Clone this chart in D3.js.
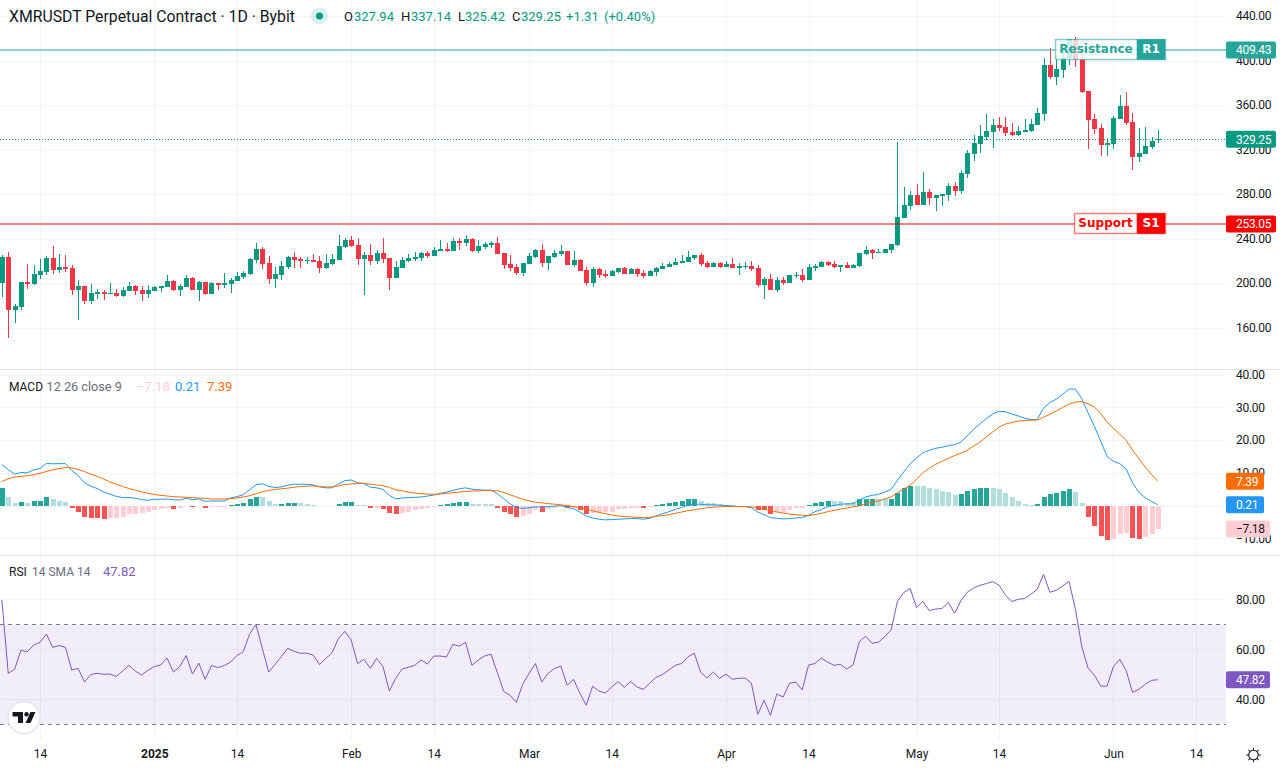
<!DOCTYPE html>
<html><head><meta charset="utf-8">
<script src="https://cdn.jsdelivr.net/npm/d3@7/dist/d3.min.js"></script>
<style>html,body{margin:0;padding:0;background:#fff;overflow:hidden}svg{display:block}text{font-family:Roboto,sans-serif}</style>
</head><body><svg id="c" width="1280" height="768"></svg>
<script>
const firstDay = "2024-12-08";
const opens = [
200.2,223.3,175.6,178.3,200.8,199,207.1,209.8,222.4,211.6,
214.3,213.4,193.6,197.2,183.7,190,191.8,190,190.9,188.2,
192.7,197.2,193.6,190,192.7,195.4,196.3,201.7,193.6,196.3,
204.4,193.6,200.8,190,199.9,198.1,199,201.7,205.3,208,
220.6,230.5,217.9,203.5,207.1,214.3,223.3,221.5,219.7,220.6,
219.7,213.4,217,220.6,232.3,238.6,234.1,221.5,225.1,219.7,
226.9,222.4,204.4,213.4,219.7,221.5,222.4,226.9,224.2,228.7,
230.5,228.7,238,235.9,239.5,228.7,232.3,234.1,235.9,226.9,
217,214.3,208.9,217,223.3,229.6,217.9,223.3,226,228.7,
216.1,220.6,211.6,199.9,212.5,208,206.2,209.8,213.4,208,
212.5,208.9,206.2,209.8,212.5,214.3,216.1,217.9,218.8,222.4,
225.1,217.9,214.3,217.9,214.3,217,213.4,214.3,215.2,213.4,
198.1,203.5,193.6,202.6,199.9,206.2,207.1,202.6,213.4,214.3,
218.8,217,214.3,216.1,213.4,215.2,226,229.6,226.9,226.9,
229.6,233.9,258.2,269,278.9,269.9,281.6,276.2,278,278.9,
287,282.5,297.8,315.8,324.8,331.1,335.6,341.9,340.1,335.6,
332.9,335.6,336.5,342,351.8,395.9,385.1,391.4,401.9,419.3,
401.3,372.5,347.3,339.2,323.9,324.8,347.3,359,344.6,313.3,
316,322.1,327.94];
const highs = [
225.1,227.8,181,200.8,217,216.1,221.5,224.2,233.2,226,
225.1,216.1,202.6,197.2,199,194.5,193.6,199.9,194.5,196.3,
200.8,198.1,197.2,198.1,197.2,197.2,207.1,202.6,199,207.1,
205.3,201.7,200.8,200.8,199.9,208.9,204.4,209.8,210.7,222.4,
235.9,232.3,224.2,214.3,219.7,224.2,227.8,223.3,223.3,226,
224.2,226,226,243.1,240.4,242.2,240.4,227.8,235,229.6,
240.4,222.4,219.7,223.3,226,227.8,227.8,228.7,232.3,238.6,
235.9,240.4,240.4,243.1,240.4,238.6,236.8,237.7,241.3,226.9,
225.1,217,217.9,226.9,230.5,235,224.2,229.6,234.1,228.7,
228.7,221.5,214.3,214.3,213.4,211.6,211.6,213.4,214.3,213.4,
213.4,211.6,211.6,214.3,217.9,218.8,222.4,225.1,228.7,225.1,
226.9,219.7,218.8,218.8,219.7,222.4,217.9,218.8,219.7,216.1,
205.3,208,205.3,205.3,207.1,209.8,212.5,217,217,219.7,
219.7,219.7,216.1,218.8,217,226.9,233.2,230.5,230.5,230.5,
235,326.6,286.1,282.5,288.8,299.6,284.3,278.9,279.8,289.7,
290.6,301.4,319.4,332.9,341.9,351.8,347.3,349.1,349.1,343.7,
341,347.3,347.3,357.2,402.2,411.2,404,410.9,419.3,421.4,
409.4,372.5,351.8,342.8,330.2,350,368.9,371.6,352.7,339.2,
340.1,331.1,337.14];
const lows = [
187.6,150.7,164.2,175.6,194.5,198.1,203.5,207.1,208,208.9,
209.8,189.1,166.6,181,181,185.5,184.6,190,187.3,187.3,
192.7,189.1,183.7,186.4,192.7,191.8,196.3,192.7,188.2,196.3,
193.6,183.7,189.1,190,193.6,195.4,190.9,201.7,203.5,207.1,
217.9,212.5,199,195.4,202.6,212.5,213.4,213.4,217,218.8,
208.9,212.5,216.1,220.6,231.4,232.3,216.1,189.1,216.1,217,
217.9,193.6,204.4,213.4,218.8,219.7,219.7,222.4,224.2,228.7,
227.8,228.7,229.6,233.2,227.8,226.9,230.5,231.4,226,212.5,
210.7,207.1,206.2,217,222.4,214.3,211.6,222.4,224.2,216.1,
214.3,210.7,197.2,196.3,204.4,204.4,206.2,208.9,208,208,
205.3,204.4,206.2,206.2,212.5,214.3,216.1,217.9,218.8,220.6,
215.2,213.4,214.3,213.4,214.3,213.4,207.1,212.5,210.7,196.3,
185.5,193.6,191.8,198.1,199.9,204.4,200.8,202.6,210.7,214.3,
215.2,213.4,209.8,213.4,213.4,214.3,225.1,221.5,226.9,226.9,
226.9,233,258.2,265.4,269.9,269.9,269.9,264.5,269,273.5,
278,279.8,294.2,309.5,316.7,328.4,321.2,336.5,332,332,
332,335.6,335.6,342,345.5,383.3,377.9,384.2,395.9,394.4,
370.7,320.3,333.8,314,314,320.3,347.3,342.1,301.4,308.6,
315.8,320.3,325.42];
const closes = [
223.6,175.9,179.2,200.8,199,208,210.7,222.4,211.6,214.3,
212.5,193.6,197.2,183.7,190.9,191.8,190,190.9,188.2,193.6,
197.2,192.7,190,193.6,196.3,197.2,201.7,193.6,197.2,204.4,
193.6,200.8,190,199.9,198.1,199.9,202.6,206.2,208.9,221.5,
230.5,217,203.5,208,215.2,223.3,220.6,219.7,220.6,218.8,
213.4,217.9,221.5,233.2,238.6,233.2,221.5,225.1,219.7,226.9,
221.5,204.4,214.3,220.6,222.4,223.3,226.9,224.2,229.6,230.5,
228.7,238,235.9,239.5,228.7,233.2,235,235.9,226,216.1,
213.4,208.9,217.9,224.2,229.6,217.9,224.2,226.9,228.7,216.1,
220.6,210.7,199.9,212.5,207.1,206.2,210.7,213.4,208,212.5,
208,206.2,210.7,213.4,215.2,217,218.8,219.7,223.3,225.1,
217,214.3,217.9,214.3,217,213.4,215.2,215.2,212.5,198.1,
203.5,193.6,202.6,199.9,207.1,207.1,202.6,214.3,215.2,218.8,
216.1,214.3,216.1,213.4,216.1,226.9,229.6,226.9,227.8,230.5,
235,259.1,269.9,278.9,269.9,281.6,276.2,278.9,279.8,287,
282.2,298.7,316.7,325.7,332,336.5,341.9,339.2,334.7,332.9,
336.5,337.4,342.8,352.7,395.9,385.1,392.3,403.4,419.3,400.4,
371.6,346.4,338.3,323.9,325.7,348.2,359,343.7,313.3,316.7,
323,327.6,329.25];
const macdHist = [
5.2,2.75,.9,1.2,.9,1.5,1.5,2.45,1.85,1.5,
1.2,-.8,-1.85,-3.4,-3.7,-3.7,-4,-3.7,-3.7,-3.4,
-2.75,-2.45,-2.4,-2.1,-1.5,-1.2,-.9,-.95,-.9,-.3,
-.6,-.3,-.9,-.6,-.6,-.6,.2,.4,.7,1.85,
2.75,2.45,1.25,.6,.6,.9,.9,.9,.6,.3,
-.1,-.3,-.3,.6,1.2,1.2,.3,.05,-.9,-.9,
-1.2,-2.4,-2.75,-2.35,-2.1,-1.5,-1.2,-.9,-.6,.2,
.4,.7,1,1.2,.6,.4,.4,.4,-.9,-1.85,
-2.75,-3.4,-3.1,-2.45,-1.5,-1.85,-1.2,-.9,-.6,-.9,
-.9,-1.5,-2.45,-2.35,-2.1,-2.1,-1.85,-1.2,-1.2,-.9,
-.9,-.9,-.6,.05,.6,.9,1.2,1.5,1.85,1.85,
1.5,.9,.9,.6,.3,.05,-.05,0,-.3,-1.5,
-1.5,-2.45,-1.85,-2.1,-1.5,-.9,-.9,.3,.9,1.2,
1.5,1.5,1.5,.9,1.2,1.85,2.1,2.1,1.85,2.1,
2.1,3.7,5.2,6.1,6.1,6.1,5.5,4.9,4.3,4,
3.1,3.4,4.3,4.9,5.5,5.5,5.5,4.9,3.7,2.45,
1.5,.6,.15,.5,2.75,3.4,3.7,4.3,4.9,4,
.9,-3.4,-6.4,-9.2,-10.7,-10.1,-8.6,-8.3,-9.8,-10.1,
-9.5,-8.6,-7.18];
const histStrong = [
1,0,0,1,0,1,1,1,0,0,
0,1,1,1,1,1,1,0,0,0,
0,0,0,0,0,0,0,1,0,0,
1,0,1,0,0,0,1,1,1,1,
1,0,0,0,1,1,1,0,0,0,
1,1,0,1,1,1,0,0,1,0,
1,1,1,0,0,0,0,0,0,1,
1,1,1,1,0,0,0,0,1,1,
1,1,0,0,0,1,0,0,0,1,
0,1,1,0,0,0,0,0,0,0,
0,1,0,1,1,1,1,1,1,1,
0,0,0,0,0,0,0,0,1,1,
1,1,0,0,0,0,0,1,1,1,
1,0,0,0,0,1,1,1,0,0,
1,1,1,1,0,0,0,0,0,0,
0,1,1,1,1,1,0,0,0,0,
0,0,0,1,1,1,1,1,1,0,
0,1,1,1,1,0,0,0,1,1,
0,0,0];
const macdLine = [12.5,10.95,9.6,10.1,10,10.9,11.3,12.85,12.75,12.8,12.8,10.7,9.15,7,5.9,5.2,4.1,3.5,2.8,2.4,2.45,2.25,1.8,1.6,1.9,1.9,2,1.75,1.7,2.2,1.8,2,1.3,1.4,1.35,1.4,2.3,2.7,3.3,4.85,6.35,6.65,5.85,5.5,5.7,6.2,6.5,6.5,6.5,6.3,5.7,5.4,5.4,6.6,7.6,7.8,7,6.75,5.6,5.4,4.9,3.1,2.05,2.3,2.4,2.5,2.6,2.9,3.2,3.7,4.1,4.6,5.1,5.4,5,4.8,4.7,4.7,3.6,2.1,.5,-.6,-.9,-.7,-.4,-.5,-.3,-.2,0,-.5,-1,-2,-3.2,-3.8,-4.2,-4.4,-4.3,-4.2,-4.1,-4,-4,-4.2,-3.9,-3.2,-2.5,-1.9,-1.2,-.6,.1,.4,.4,.2,.2,.1,0,-.2,-.3,-.3,-.7,-2,-2.8,-3.7,-3.9,-4.1,-4,-3.8,-3.7,-3,-1.9,-1.2,-.4,0,.4,.5,.5,1.7,2.6,3.1,3.4,4.1,4.9,7.7,10.3,12.8,14.5,16.1,16.9,17.5,17.8,18.3,18.6,19.4,21.3,23.3,25,26.6,28,28.8,28.7,28,27.4,26.7,26.3,26.3,29.8,31.5,32.5,34,35.6,35.6,32.7,28.4,24.2,19.7,15,13.5,12.8,11.2,7,4,2.4,1.3,.21];
const signalLine = [7.3,8.2,8.7,8.9,9.1,9.4,9.8,10.4,10.9,11.3,11.6,11.5,11,10.4,9.6,8.9,8.1,7.2,6.5,5.8,5.2,4.7,4.2,3.7,3.4,3.1,2.9,2.7,2.6,2.5,2.4,2.3,2.2,2,1.95,2,2.1,2.3,2.6,3,3.6,4.2,4.6,4.9,5.1,5.3,5.6,5.8,5.9,6,5.8,5.7,5.7,6,6.4,6.6,6.7,6.7,6.5,6.3,6.1,5.5,4.8,4.5,4.1,3.8,3.6,3.5,3.4,3.5,3.7,3.9,4.1,4.3,4.4,4.5,4.6,4.6,4.5,4,3.3,2.6,1.9,1.4,1,.8,.6,.4,.2,0,-.3,-.7,-1.1,-1.6,-2.1,-2.5,-2.9,-3.2,-3.4,-3.5,-3.6,-3.7,-3.6,-3.3,-3.1,-2.8,-2.4,-2,-1.6,-1.3,-1,-.7,-.5,-.4,-.3,-.3,-.3,-.3,-.4,-.7,-1.2,-1.5,-2,-2.3,-2.6,-2.8,-3,-3.1,-2.8,-2.4,-1.9,-1.5,-1.1,-.8,-.4,-.1,.5,1,1.4,2,2.6,3.9,5,6.2,8,10,11.4,12.6,13.5,14.4,15.3,16,16.9,18.2,19.4,21,22.5,24,24.9,25.4,25.8,26,26.1,26.1,27,27.9,28.9,30,31,31.6,31.8,31.1,30.1,28.2,25.5,23.6,21.8,19.9,17,14.3,11.8,9.5,7.39];
const rsiValues = [79.7,50.4,52,59.6,59,61.7,62.8,66.1,60.8,61.5,60.8,51.7,52.4,46.9,49.9,50.4,50,50.1,49.1,51.3,53.6,51.3,49.7,51.6,53.1,53.7,56.5,50.9,53.1,57.5,50.1,54.5,48,53.5,52.7,53.5,54.9,57.5,59,66.1,69.9,60.4,50.9,53.9,57.1,60.4,59.2,58.4,58.5,57.7,53.9,56.3,58.7,64.4,67.2,63.7,54.3,56,52.4,56.4,53.1,43.3,48.4,52.1,52.8,53.6,55.7,54.1,57.3,57.3,56.9,62,61.2,62.8,53.6,55.7,57.3,58.1,50.7,43.2,41.6,38.8,46,50.4,54.3,46.9,50.4,52.3,53.3,45.6,48,42.4,37.6,45.2,43.3,42.5,44.9,47.1,44.8,47.1,44.9,44,46.5,48.8,49.9,51.7,53.6,54.3,56.9,58.5,50.9,48.5,50.9,48.4,50.1,48,48.4,48.5,46.5,34,39.6,33.6,42.1,40.9,46.4,46.9,43.7,53.7,54.3,56.5,54.9,53.6,54,52.1,53.7,63.1,65.2,62.4,62.8,65.1,67.7,79.2,82.7,84.3,76.7,79.2,75.5,76.1,76.3,78.8,74.4,79.5,82.9,84.5,85.6,86.3,87.1,85.6,81.7,79.1,80,80.3,82,84,90,82.8,83.6,85.3,87.2,76.3,61.3,52.5,49.7,45.3,45.3,53.1,56,51.5,42.8,44,46,47.6,47.82];
const priceTicks = [440,400,360,320,280,240,200,160];
const macdTicks = [40,30,20,10,0,-10];
const rsiTicks = [80,60,40];
const rsiBand = [70,30];
const timeTicks = ["2024-12-14","2025-01-01","2025-01-14","2025-02-01","2025-02-14","2025-03-01","2025-03-14","2025-04-01","2025-04-14","2025-05-01","2025-05-14","2025-06-01","2025-06-14"];
const timeLabels = ["14","2025","14","Feb","14","Mar","14","Apr","14","May","14","Jun","14"];
const resistance = {label:"Resistance", tag:"R1", value:409.43};
const support = {label:"Support", tag:"S1", value:253.05};
const lastPrice = 329.25, macdLast = -7.18, macdLine0 = 0.21, signalLast = 7.39, rsiLast = 47.82;

const UP="#089981", DOWN="#f23645", GRID="#f0f3fa", TXT="#131722", W=1226;
const svg=d3.select("#c");
const parse=d3.utcParse("%Y-%m-%d");
const dates=opens.map((_,i)=>d3.utcDay.offset(parse(firstDay),i));
const x=d3.scaleUtc().domain([parse("2024-12-14"),parse("2025-06-14")]).range([40,1196]);
const yP=d3.scaleLinear().domain([440,160]).range([16,327.5]);
const yM=d3.scaleLinear().domain([40,-10]).range([374.7,538.2]);
const yR=d3.scaleLinear().domain([80,40]).range([599.3,699.3]);
const sx=d=>Math.round(x(d));
const fmt=d3.format(".2f");
const minus=s=>String(s).replace("-","\u2212");

const defs=svg.append("defs");
defs.append("clipPath").attr("id","cP").append("rect").attr("width",W).attr("height",369);
defs.append("clipPath").attr("id","cM").append("rect").attr("y",370).attr("width",W).attr("height",185);
defs.append("clipPath").attr("id","cR").append("rect").attr("y",556).attr("width",W).attr("height",184);

const grid=svg.append("g").attr("stroke",GRID).attr("stroke-width",1).attr("shape-rendering","crispEdges");
timeTicks.forEach(t=>grid.append("line").attr("x1",sx(parse(t))+.5).attr("x2",sx(parse(t))+.5).attr("y1",0).attr("y2",740));
const hl=(s,v)=>grid.append("line").attr("x1",0).attr("x2",W).attr("y1",Math.round(s(v))+.5).attr("y2",Math.round(s(v))+.5);
priceTicks.forEach(v=>hl(yP,v)); macdTicks.forEach(v=>hl(yM,v)); rsiTicks.forEach(v=>hl(yR,v));
const sep=svg.append("g").attr("stroke","#e0e3eb").attr("shape-rendering","crispEdges");
[369,555].forEach(y=>sep.append("line").attr("x1",0).attr("x2",1280).attr("y1",y+.5).attr("y2",y+.5));

const cg=svg.append("g").attr("clip-path","url(#cP)").attr("shape-rendering","crispEdges");
const colr=i=>closes[i]>=opens[i]?UP:DOWN;
cg.selectAll("line").data(dates).join("line")
  .attr("x1",d=>sx(d)+.5).attr("x2",d=>sx(d)+.5)
  .attr("y1",(d,i)=>yP(highs[i])).attr("y2",(d,i)=>yP(lows[i]))
  .attr("stroke",(d,i)=>colr(i));
cg.selectAll("rect").data(dates).join("rect")
  .attr("x",d=>sx(d)-2).attr("width",5)
  .attr("y",(d,i)=>Math.round(yP(Math.max(opens[i],closes[i]))))
  .attr("height",(d,i)=>Math.max(1,Math.round(Math.abs(yP(opens[i])-yP(closes[i])))))
  .attr("fill",(d,i)=>colr(i));

svg.append("line").attr("x1",0).attr("x2",W).attr("y1",Math.round(yP(lastPrice))+.5).attr("y2",Math.round(yP(lastPrice))+.5)
  .attr("stroke",UP).attr("stroke-dasharray","1 2").attr("shape-rendering","crispEdges");

function level(o,col,lineCol,boxLeft,boxStroke,boxFill){
  const y=yP(o.value);
  svg.append("line").attr("x1",0).attr("x2",W).attr("y1",y).attr("y2",y).attr("stroke",lineCol).attr("stroke-width",2);
  const g=svg.append("g");
  g.append("rect").attr("x",boxLeft+.5).attr("y",y-10.5).attr("width",1165-boxLeft).attr("height",20).attr("fill",boxFill).attr("stroke",boxStroke).attr("stroke-width",1.5);
  g.append("rect").attr("x",1137).attr("y",y-10.5).attr("width",28).attr("height",20).attr("fill",col).attr("stroke",boxStroke).attr("stroke-width",1);
  g.append("text").attr("x",(boxLeft+1137)/2).attr("y",y+3).attr("text-anchor","middle").attr("fill",col)
    .style("font-family","'DejaVu Sans'").style("font-weight","bold").style("font-size","12px").text(o.label);
  g.append("text").attr("x",1151).attr("y",y+3).attr("text-anchor","middle").attr("fill","#fff")
    .style("font-family","'DejaVu Sans'").style("font-weight","bold").style("font-size","12px").text(o.tag);
}
level(resistance,"#26a69a","rgba(38,166,154,.5)",1055,"rgba(38,166,154,.55)","rgba(255,255,255,.8)");
level(support,"#ff0000","rgba(255,0,0,.5)",1074,"rgba(255,0,0,.5)","#fff");

const mg=svg.append("g").attr("clip-path","url(#cM)");
mg.append("g").attr("shape-rendering","crispEdges").selectAll("rect").data(dates).join("rect")
  .attr("x",d=>sx(d)-2).attr("width",5)
  .attr("y",(d,i)=>Math.min(yM(0),yM(macdHist[i])))
  .attr("height",(d,i)=>Math.abs(yM(0)-yM(macdHist[i])))
  .attr("fill",(d,i)=>macdHist[i]>=0?(histStrong[i]?"#26a69a":"#b2dfdb"):(histStrong[i]?"#ff5252":"#ffcdd2"));
const lineOf=(s,arr)=>d3.line().x(d=>x(d)).y((d,i)=>s(arr[i]))(dates);
mg.append("path").attr("d",lineOf(yM,macdLine)).attr("fill","none").attr("stroke","#2196f3");
mg.append("path").attr("d",lineOf(yM,signalLine)).attr("fill","none").attr("stroke","#ff6d00");

const rg=svg.append("g").attr("clip-path","url(#cR)");
rg.append("rect").attr("x",0).attr("width",W).attr("y",yR(rsiBand[0])).attr("height",yR(rsiBand[1])-yR(rsiBand[0])).attr("fill","rgba(126,87,194,.1)");
rsiBand.forEach(v=>rg.append("line").attr("x1",0).attr("x2",W).attr("y1",Math.round(yR(v))+.5).attr("y2",Math.round(yR(v))+.5).attr("stroke","#787b86").attr("stroke-dasharray","4 4").attr("shape-rendering","crispEdges"));
rg.append("path").attr("d",lineOf(yR,rsiValues)).attr("fill","none").attr("stroke","#7e57c2");

function priceAxis(s,ticks){
  const a=svg.append("g").attr("transform","translate(1236,0)").call(d3.axisRight(s).tickValues(ticks).tickSize(0).tickPadding(0).tickFormat(d=>minus(fmt(d))));
  a.select(".domain").remove();
  a.selectAll("text").attr("fill",TXT).style("font-size","12px").style("letter-spacing","-.3px");
}
priceAxis(yP,priceTicks); priceAxis(yM,macdTicks); priceAxis(yR,rsiTicks);
const ta=svg.append("g").attr("transform","translate(0,740)").call(d3.axisBottom(x).tickValues(timeTicks.map(parse)).tickSize(0).tickPadding(9).tickFormat((d,i)=>timeLabels[i]));
ta.select(".domain").remove();
ta.selectAll("text").attr("fill",TXT).style("font-size","12px").style("font-weight",(d,i)=>timeLabels[i]==="2025"?"bold":"normal");

function tag(s,v,col,tcol,w){
  const y=s(v);
  svg.append("rect").attr("x",1226).attr("y",y-8.5).attr("width",w).attr("height",17).attr("rx",2).attr("fill",col);
  svg.append("text").attr("x",1236).attr("y",y+4.3).attr("fill",tcol).style("font-size","12px").style("letter-spacing","-.3px").text(minus(fmt(v)));
}
tag(yP,resistance.value,"#26a69a","#fff",50);
tag(yP,lastPrice,UP,"#fff",50);
tag(yP,support.value,"#ff0000","#fff",50);
tag(yM,signalLast,"#ff6d00","#fff",38);
tag(yM,macdLine0,"#2196f3","#fff",38);
tag(yM,macdLast,"#ffcdd2",TXT,44);
tag(yR,rsiLast,"#7e57c2","#fff",44);

svg.append("text").attr("x",9).attr("y",21.5).attr("fill",TXT).style("font-size","15.8px").text("XMRUSDT Perpetual Contract \u00b7 1D \u00b7 Bybit");
svg.append("circle").attr("cx",319.5).attr("cy",16).attr("r",8.5).attr("fill","rgba(8,153,129,.15)");
svg.append("circle").attr("cx",319.5).attr("cy",16).attr("r",3.5).attr("fill",UP);
[[344,"O",TXT],[354,"327.94",UP],[401,"H",TXT],[411,"337.14",UP],[458,"L",TXT],[465,"325.42",UP],[512,"C",TXT],[521,"329.25",UP],[566,"+1.31",UP],[604,"(+0.40%)",UP]]
  .forEach(([px,t,c])=>svg.append("text").attr("x",px).attr("y",21).attr("fill",c).style("font-size","13px").text(t));
const lg=(px,y,t,c,fs)=>svg.append("text").attr("x",px).attr("y",y).attr("fill",c).style("font-size",fs+"px").text(t);
lg(9,391,"MACD",TXT,12); lg(46.5,391,"12 26 close 9","#6a6d78",12.7); lg(137,391,minus(macdLast),"#ffcdd2",13); lg(175,391,macdLine0,"#2196f3",13); lg(207,391,signalLast,"#ff6d00",13);
lg(9,576,"RSI",TXT,12); lg(32,576,"14 SMA 14","#6a6d78",12); lg(103,576,rsiLast,"#7e57c2",13);

const lo=svg.append("g").attr("transform","translate(24,717.5)");
lo.append("circle").attr("r",16).attr("fill","#fff").attr("stroke","#e0e3eb").attr("stroke-width",1.5);
const gl=lo.append("g").attr("transform","translate(-11.5,-5.5)").attr("fill","#131722");
gl.append("path").attr("d","M0 0H10.5V11H5.5V4.5H0Z");
gl.append("circle").attr("cx",14).attr("cy",2.2).attr("r",2.2);
gl.append("path").attr("d","M18 0H23L18 11H13Z");
const sun=svg.append("g").attr("transform","translate(1253.5,755)").attr("stroke",TXT).attr("fill","none").attr("stroke-width",1.1);
sun.append("circle").attr("r",4.8);
d3.range(8).forEach(k=>{const a=k*Math.PI/4;sun.append("line").attr("x1",5.2*Math.cos(a)).attr("y1",5.2*Math.sin(a)).attr("x2",7.2*Math.cos(a)).attr("y2",7.2*Math.sin(a));});
</script></body></html>
